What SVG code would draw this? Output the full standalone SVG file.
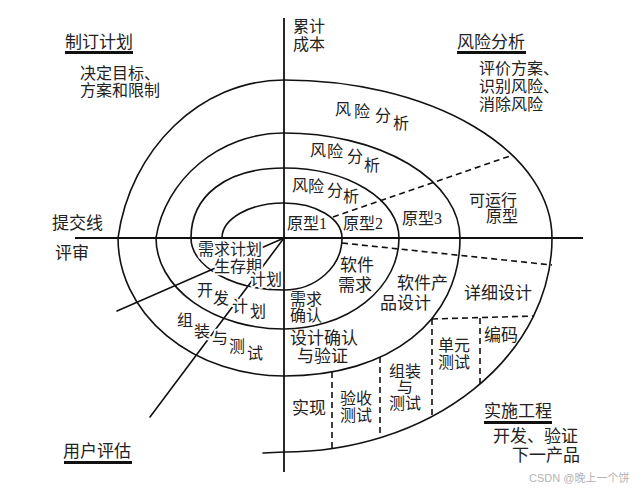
<svg xmlns="http://www.w3.org/2000/svg" width="637" height="490" viewBox="0 0 637 490">
<style>
.ln{fill:none;stroke:#111;stroke-width:1.6;stroke-linecap:round}
.ax{fill:none;stroke:#111;stroke-width:1.8}
.ds{fill:none;stroke:#111;stroke-width:1.6;stroke-dasharray:6 4}
text{font-family:"Liberation Serif","Noto Sans CJK SC",serif;fill:#222;font-size:16px}
.t17{font-size:17px}
.h{stroke:#fff;stroke-width:4;stroke-linejoin:round;paint-order:stroke}
.wm{font-family:"Liberation Sans","Noto Sans CJK SC",sans-serif;font-size:11px;fill:#b4b4b4}
</style>
<rect width="637" height="490" fill="#fff"/>
<g id="axes">
<line class="ax" x1="284" y1="18" x2="284" y2="472"/>
<line class="ax" x1="75" y1="238" x2="583" y2="238"/>
</g>
<g id="spiral">
<path class="ln" d="M222,238 A62,35 0 0 1 284,203 A58,35 0 0 1 342,238 A58,52 0 0 1 284,290 A93,52 0 0 1 191,238 C191,196 226,168 284,168 A115,70 0 0 1 399,238 A115,91 0 0 1 284,329 A128,91 0 0 1 156,238 C165,180 219,133 284,133 A176,105 0 0 1 460,238 C460,321 390,376 284,376 A166,138 0 0 1 118,238 C130,150 200,80 284,80 A268,158 0 0 1 552,238 A268,214 0 0 1 284,452 L263,453"/>
</g>
<g id="connectors">
<line class="ln" x1="284" y1="238" x2="117" y2="311"/>
<line class="ln" x1="284" y1="238" x2="150" y2="417"/>
<line class="ds" x1="333" y1="217" x2="510" y2="156"/>
<line class="ds" x1="342" y1="243" x2="552" y2="265"/>
<line class="ds" x1="432" y1="319" x2="534" y2="316"/>
<line class="ds" x1="432" y1="319" x2="432" y2="416"/>
<line class="ds" x1="480" y1="318" x2="480" y2="384"/>
<line class="ds" x1="380" y1="357" x2="380" y2="437"/>
<line class="ds" x1="332" y1="372" x2="332" y2="448"/>
</g>
<g id="headers">
<text class="t17" x="65" y="48">制订计划</text>
<rect x="65" y="51" width="68" height="3" fill="#111"/>
<text class="t17" x="457" y="48">风险分析</text>
<rect x="457" y="51" width="69" height="3" fill="#111"/>
<text class="t17" x="63" y="457">用户评估</text>
<rect x="64" y="461" width="68" height="3" fill="#111"/>
<text class="t17" x="484" y="417">实施工程</text>
<rect x="484" y="421" width="68" height="3" fill="#111"/>
</g>
<g id="notes">
<text x="80" y="79">决定目标、</text>
<text x="80" y="96">方案和限制</text>
<text x="293" y="32">累计</text>
<text x="293" y="50">成本</text>
<text x="479" y="74">评价方案、</text>
<text x="479" y="92">识别风险、</text>
<text x="479" y="110">消除风险</text>
<text class="t17" x="52" y="229">提交线</text>
<text class="t17" x="55" y="259">评审</text>
<text class="t17" x="493" y="442">开发、验证</text>
<text class="t17" x="512" y="461">下一产品</text>
<text class="wm" x="529" y="482">CSDN @晚上一个饼</text>
</g>
<g id="risk">
<text x="335" y="115">风</text><text x="354" y="117">险</text><text x="375" y="121">分</text><text x="393" y="129">析</text>
<text x="310" y="156">风</text><text x="327" y="157">险</text><text x="347" y="162">分</text><text x="364" y="171">析</text>
<text x="292" y="191">风</text><text x="308" y="192">险</text><text x="327" y="196">分</text><text x="343" y="202">析</text>
</g>
<g id="prototypes">
<text x="287" y="229">原型1</text>
<text x="343" y="229">原型2</text>
<text x="402" y="224">原型3</text>
<text x="469" y="206">可运行</text>
<text x="486" y="222">原型</text>
</g>
<g id="design">
<text class="t17" x="340" y="271">软件</text>
<text class="t17" x="338" y="291">需求</text>
<text class="t17" x="397" y="289">软件产</text>
<text class="t17" x="380" y="309">品设计</text>
<text x="290" y="305">需求</text>
<text x="290" y="321">确认</text>
<text class="t17" x="290" y="344">设计确认</text>
<text class="t17" x="297" y="362">与验证</text>
<text class="t17" x="464" y="299">详细设计</text>
</g>
<g id="implementation">
<text class="t17" x="484" y="341">编码</text>
<text x="438" y="351">单元</text>
<text x="438" y="368">测试</text>
<text x="389" y="377">组装</text>
<text x="397" y="393">与</text>
<text x="389" y="409">测试</text>
<text x="340" y="404">验收</text>
<text x="340" y="421">测试</text>
<text class="t17" x="292" y="414">实现</text>
</g>
<g id="plans">
<text class="h" x="198" y="255">需求计划</text>
<text class="h" x="214" y="272">生存期</text>
<text class="h" x="250" y="285">计划</text>
<text class="h" x="197" y="296">开</text><text class="h" x="213" y="304">发</text><text class="h" x="232" y="312">计</text><text class="h" x="250" y="317">划</text>
<text class="h" x="177" y="326">组</text><text class="h" x="194" y="337">装</text><text class="h" x="212" y="344">与</text><text class="h" x="229" y="352">测</text><text class="h" x="247" y="359">试</text>
</g>
</svg>
